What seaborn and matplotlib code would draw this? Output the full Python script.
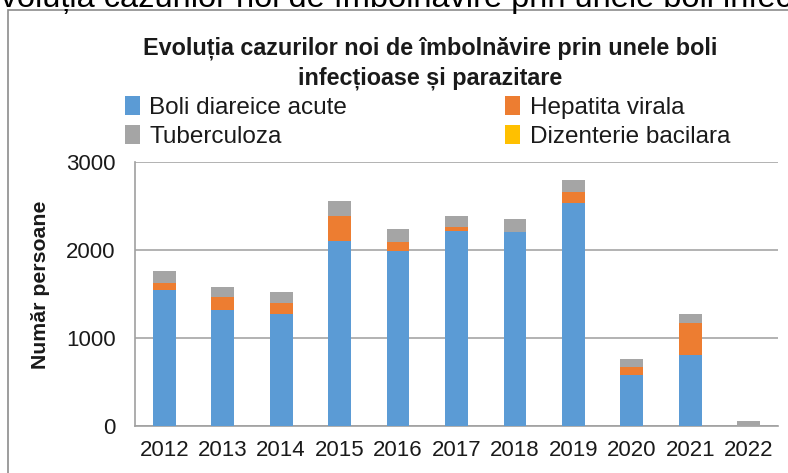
import numpy as np
import pandas as pd
import matplotlib
matplotlib.use("Agg")
import matplotlib.pyplot as plt
import seaborn as sns
from matplotlib.patches import Patch, Rectangle
from matplotlib import font_manager

# ---------------- data ----------------
years = ["2012", "2013", "2014", "2015", "2016", "2017", "2018", "2019", "2020", "2021", "2022"]
boli_diareice = [1550, 1315, 1275, 2105, 1985, 2218, 2207, 2530, 585, 805, 0]
hepatita = [73, 150, 128, 276, 108, 38, 0, 128, 86, 367, 0]
tuberculoza = [144, 117, 118, 171, 141, 125, 144, 133, 87, 98, 61]
dizenterie = [0, 0, 0, 0, 0, 0, 0, 0, 0, 0, 0]

series_names = ["Boli diareice acute", "Hepatita virala", "Tuberculoza", "Dizenterie bacilara"]
colors = ["#5B9BD5", "#ED7D31", "#A5A5A5", "#FFC000"]
title = "Evoluția cazurilor noi de îmbolnăvire prin unele boli\ninfecțioase și parazitare"
page_heading = "Evoluția cazurilor noi de îmbolnăvire prin unele boli infecțioase și parazitare"
ylabel = "Număr persoane"
yticks = [0, 1000, 2000, 3000]

# ---------------- fonts ----------------
sns.set_theme(style="white")
avail = {f.name for f in font_manager.fontManager.ttflist}
narrow = "Liberation Sans Narrow" if "Liberation Sans Narrow" in avail else "Liberation Sans"
plt.rcParams["font.family"] = ["Liberation Sans", "DejaVu Sans"]

W, H = 788, 473
fig = plt.figure(figsize=(W / 100, H / 100), dpi=100)
fig.patch.set_facecolor("white")

# page heading (cropped at top)
fig.text(-21 / W, 1 - 6.5 / H, page_heading, ha="left", va="baseline",
         fontsize=23.4, color="#000000", family=["Liberation Sans", "DejaVu Sans"])

# chart frame
frame = Rectangle((8 / W, -0.05), 1.2, 1 - 10 / H + 0.05, transform=fig.transFigure,
                  fill=False, edgecolor="#8C8C8C", linewidth=1.2)
fig.patches.append(frame)

# plot area
ax_left, ax_right = 135 / W, 778 / W
ax_bottom, ax_top = 1 - 426 / H, 1 - 162 / H
ax = fig.add_axes([ax_left, ax_bottom, ax_right - ax_left, ax_top - ax_bottom])

df = pd.DataFrame({
    "year": years,
    series_names[0]: boli_diareice,
    series_names[1]: hepatita,
    series_names[2]: tuberculoza,
    series_names[3]: dizenterie,
})
cum = df[series_names].cumsum(axis=1)

# draw stacked bars (topmost cumulative first)
for name, col in reversed(list(zip(series_names, colors))):
    sns.barplot(x=df["year"], y=cum[name], color=col, width=0.39, ax=ax,
                saturation=1, edgecolor="none", linewidth=0, zorder=3)

ax.set_ylim(0, 3000)
ax.set_xlim(-0.5, len(years) - 0.5)
ax.set_yticks(yticks)
ax.set_yticklabels([str(v) for v in yticks], fontsize=16, color="#1a1a1a")
ax.tick_params(axis="x", labelsize=16, colors="#1a1a1a", length=0, pad=10)
ax.tick_params(axis="y", length=9, width=1.2, color="#A0A0A0", direction="out", pad=5)
ax.set_xlabel("")
ax.set_ylabel(ylabel, fontsize=15.3, fontweight="bold", family=[narrow, "DejaVu Sans"],
              color="#1a1a1a")
ax.yaxis.set_label_coords(-85 / (778 - 135), 0.534)
ax.yaxis.grid(True, color="#A6A6A6", linewidth=1.2, zorder=0)
ax.set_axisbelow(True)
for s in ["top", "right"]:
    ax.spines[s].set_visible(False)
ax.spines["left"].set_color("#A0A0A0")
ax.spines["left"].set_linewidth(1.2)
ax.spines["bottom"].set_color("#A0A0A0")
ax.spines["bottom"].set_linewidth(1.2)

# title
fig.text(430 / W, 1 - 63 / H, title, ha="center", va="center", fontsize=16.8,
         fontweight="bold", family=[narrow, "DejaVu Sans"], color="#1a1a1a",
         linespacing=1.35)

# legend: row 1 Boli, Hepatita; row 2 Tuberculoza, Dizenterie
handles = [Patch(facecolor=c, edgecolor="none") for c in colors]
order = [0, 2, 1, 3]
leg = fig.legend([handles[i] for i in order], [series_names[i] for i in order],
                 ncol=2, loc="upper left", bbox_to_anchor=(113 / W, 1 - 84 / H),
                 frameon=False, prop={"family": [narrow, "DejaVu Sans"], "size": 17.5},
                 handlelength=0.6, handleheight=0.8, handletextpad=0.4,
                 columnspacing=6.5, labelspacing=0.25, borderpad=0)
for t in leg.get_texts():
    t.set_color("#1a1a1a")

fig.savefig("out.png", dpi=100, facecolor="white")
